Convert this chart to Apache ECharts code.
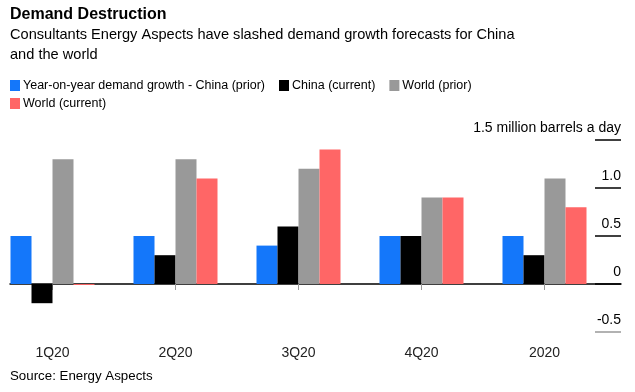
<!DOCTYPE html>
<html>
<head>
<meta charset="utf-8">
<style>
html,body{margin:0;padding:0;background:#fff;}
#chart{width:635px;height:392px;}
</style>
<script src="https://cdn.jsdelivr.net/npm/echarts@6/dist/echarts.min.js"></script>
</head>
<body>
<div id="chart"></div>
<script>
const categories = ['1Q20', '2Q20', '3Q20', '4Q20', '2020'];
const chinaPrior = [0.5, 0.5, 0.4, 0.5, 0.5];
const chinaCurrent = [-0.2, 0.3, 0.6, 0.5, 0.3];
const worldPrior = [1.3, 1.3, 1.2, 0.9, 1.1];
const worldCurrent = [-0.01, 1.1, 1.4, 0.9, 0.8];
const yTicks = [-0.5, 0, 0.5, 1.0, 1.5];
const seriesNames = ['Year-on-year demand growth - China (prior)', 'China (current)', 'World (prior)', 'World (current)'];
const colors = ['#1477FA', '#000000', '#999999', '#FF6666'];

const FONT = 'Liberation Sans, Arial, sans-serif';
const chart = echarts.init(document.getElementById('chart'));

const yMin = yTicks[0], yMax = yTicks[yTicks.length - 1];
const gridTop = 140, gridHeight = 192;

function bar(name, data, color) {
  return {
    name: name, type: 'bar', data: data, xAxisIndex: 0, yAxisIndex: 0,
    barWidth: 21, barGap: '0%', itemStyle: { color: color }, silent: true
  };
}

const legendCommon = {
  itemWidth: 10, itemHeight: 11, itemGap: 14, icon: 'rect', selectedMode: false, padding: 0,
  textStyle: { fontFamily: FONT, fontSize: 12.5, color: '#000', padding: [0, 0, 0, -2] }
};

chart.setOption({
  backgroundColor: '#fff',
  animation: false,
  color: colors,
  textStyle: { fontFamily: FONT },
  title: [
    { text: 'Demand Destruction', left: 10, top: 7, padding: 0,
      textStyle: { fontFamily: FONT, fontSize: 16, fontWeight: 'bold', color: '#000' } },
    { text: 'Consultants Energy Aspects have slashed demand growth forecasts for China\nand the world', left: 10, top: 25, padding: 0,
      textStyle: { fontFamily: FONT, fontSize: 14.6, fontWeight: 'normal', color: '#000', lineHeight: 20 } },
    { text: 'Source: Energy Aspects', left: 10, top: 370, padding: 0,
      textStyle: { fontFamily: FONT, fontSize: 13.3, fontWeight: 'normal', color: '#000' } }
  ],
  legend: [
    Object.assign({}, legendCommon, { left: 10, top: 79, data: seriesNames.slice(0, 3) }),
    Object.assign({}, legendCommon, { left: 10, top: 97, data: seriesNames.slice(3) })
  ],
  grid: [
    { left: -9, width: 615, top: gridTop, height: gridHeight, outerBoundsMode: 'none', containLabel: false },
    { left: 10, right: 14, top: gridTop, height: gridHeight, outerBoundsMode: 'none' },
    { left: 595, right: 14, top: gridTop, height: gridHeight, outerBoundsMode: 'none' }
  ],
  xAxis: [
    { type: 'category', gridIndex: 0, data: categories,
      axisLine: { show: false },
      axisTick: { show: true, alignWithLabel: true, length: 6, lineStyle: { color: '#999' } },
      axisLabel: { margin: 14, fontFamily: FONT, fontSize: 14, color: '#222' } },
    { type: 'value', gridIndex: 1, min: 0, max: 1,
      axisLine: { show: true, onZero: true, lineStyle: { color: '#000', width: 1.5 } },
      axisTick: { show: false }, axisLabel: { show: false }, splitLine: { show: false } },
    { type: 'value', gridIndex: 2, min: 0, max: 1, show: false }
  ],
  yAxis: [
    { type: 'value', gridIndex: 0, min: yMin, max: yMax, interval: 0.5, show: false },
    { type: 'value', gridIndex: 1, min: yMin, max: yMax, interval: 0.5,
      axisLine: { show: false }, axisTick: { show: false }, axisLabel: { show: false }, splitLine: { show: false } },
    { type: 'value', gridIndex: 2, position: 'right', min: yMin, max: yMax, interval: 0.5,
      axisLine: { show: false }, axisTick: { show: false },
      splitLine: { show: true, lineStyle: { color: ['#999', '#000', '#000', '#000', '#000'], width: 1.5 } },
      axisLabel: {
        inside: true, margin: 0, fontFamily: FONT, fontSize: 14, color: '#000',
        verticalAlign: 'bottom', padding: [0, 0, 5, 0],
        formatter: function (v) {
          if (v === yMax) return '1.5 million barrels a day';
          if (v === 0) return '0';
          return v.toFixed(1);
        }
      } }
  ],
  series: [
    bar(seriesNames[0], chinaPrior, colors[0]),
    bar(seriesNames[1], chinaCurrent, colors[1]),
    bar(seriesNames[2], worldPrior, colors[2]),
    bar(seriesNames[3], worldCurrent, colors[3])
  ]
});
</script>
</body>
</html>
